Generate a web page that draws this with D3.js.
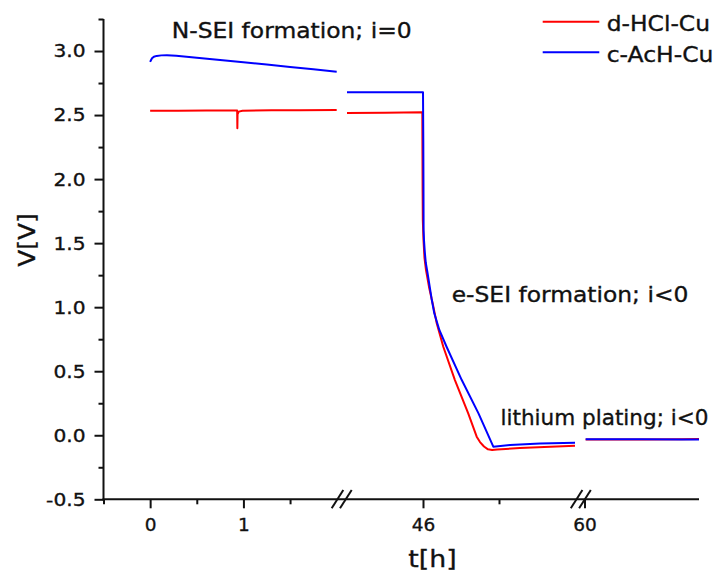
<!DOCTYPE html>
<html>
<head>
<meta charset="utf-8">
<script src="https://cdn.jsdelivr.net/npm/d3@7"></script>
<style>
  html, body { margin: 0; padding: 0; background: #fff; }
  svg { display: block; font-family: "DejaVu Sans", Verdana, sans-serif; }
  text { fill: #111; stroke: #111; stroke-width: 0.35px; }
</style>
</head>
<body>
<svg id="chart" width="721" height="573"></svg>
<script>
// ---------------- DATA ----------------
const seriesNames = ["d-HCl-Cu", "c-AcH-Cu"];
const seriesColors = ["#ff0000", "#0000ff"];

// segment 1 (t = 0 .. 2 h)
const red1 = [[0, 2.533], [0.3, 2.534], [0.6, 2.535], [0.933, 2.535], [0.935, 2.397], [0.937, 2.505], [0.95, 2.527], [0.99, 2.534], [1.3, 2.537], [1.6, 2.538], [2.0, 2.540]];
const blue1 = [[0, 2.915], [0.01, 2.93], [0.02, 2.943], [0.04, 2.955], [0.07, 2.962], [0.12, 2.966], [0.18, 2.967], [0.28, 2.964], [0.5, 2.948], [0.75, 2.930], [1.0, 2.912], [1.25, 2.894], [1.5, 2.876], [1.75, 2.857], [2.0, 2.839]];

// segment 2 (t = 44 .. 50 h)
const red2 = [[44, 2.516], [45, 2.519], [45.982, 2.522], [45.986, 2.2], [45.99, 1.9], [45.995, 1.681], [46.013, 1.524], [46.039, 1.384], [46.079, 1.29], [46.158, 1.158], [46.263, 1.017], [46.361, 0.874], [46.534, 0.691], [46.84, 0.431], [47.19, 0.171], [47.413, -0.011], [47.50, -0.053], [47.605, -0.088], [47.71, -0.110], [47.82, -0.115], [47.95, -0.112], [48.55, -0.099], [50.0, -0.082]];
const blue2 = [[44, 2.678], [46.0, 2.678], [46.008, 2.30], [46.012, 1.993], [46.016, 1.60], [46.026, 1.524], [46.047, 1.43], [46.074, 1.345], [46.118, 1.27], [46.171, 1.17], [46.224, 1.07], [46.297, 0.952], [46.43, 0.822], [46.62, 0.691], [47.02, 0.431], [47.46, 0.171], [47.85, -0.089], [48.29, -0.076], [49.08, -0.064], [50.0, -0.058]];

// segment 3 (t = 60 .. 70 h)
const red3 = [[60.1, -0.034], [65, -0.033], [68.5, -0.031], [70, -0.029]];
const blue3 = [[60.1, -0.032], [65, -0.032], [68.5, -0.033], [70, -0.034]];

const yMajorTicks = [-0.5, 0.0, 0.5, 1.0, 1.5, 2.0, 2.5, 3.0];
const yMinorTicks = [-0.25, 0.25, 0.75, 1.25, 1.75, 2.25, 2.75, 3.25];
const xMajorTicks = [[0, 1], [46], [60]];
const xMinorTicks = [[-0.5, 0.5, 1.5], [48], []];

const annotations = ["N-SEI formation; i=0", "e-SEI formation; i<0", "lithium plating; i<0"];
const xTitle = "t[h]";
const yTitle = "V[V]";

// ---------------- LAYOUT ----------------
const svg = d3.select("#chart");
const axisY0 = 499.3, axisTop = 19, axisX0 = 103.5, axisX1 = 699;

const y = d3.scaleLinear().domain([-0.5, 3.25]).range([axisY0, axisTop]);
const xs = [
  d3.scaleLinear().domain([-0.5, 2]).range([axisX0, 336.7]),
  d3.scaleLinear().domain([44, 50]).range([347, 575]),
  d3.scaleLinear().domain([60, 70]).range([584.5, 699])
];
const breaks = [341.7, 580.8];

const dataBySeg = [[red1, blue1], [red2, blue2], [red3, blue3]];

function fitWidth(sel, w) {
  sel.attr("textLength", w).attr("lengthAdjust", "spacingAndGlyphs");
}
function stretchBy(sel, f) {
  sel.each(function () {
    const len = this.getComputedTextLength();
    if (len > 0) d3.select(this).attr("textLength", (len * f).toFixed(1)).attr("lengthAdjust", "spacingAndGlyphs");
  });
}

// lines
dataBySeg.forEach((pair, si) => {
  const line = d3.line().x(d => xs[si](d[0])).y(d => y(d[1]));
  pair.forEach((data, k) => {
    svg.append("path")
      .attr("d", line(data))
      .attr("fill", "none")
      .attr("stroke", seriesColors[k])
      .attr("stroke-width", 2)
      .attr("stroke-linejoin", "round");
  });
});

// axes
const axisColor = "#111";
svg.append("line").attr("x1", axisX0).attr("x2", axisX0).attr("y1", axisTop).attr("y2", axisY0 + 1)
  .attr("stroke", axisColor).attr("stroke-width", 2);
svg.append("line").attr("x1", axisX0 - 1).attr("x2", axisX1).attr("y1", axisY0).attr("y2", axisY0)
  .attr("stroke", axisColor).attr("stroke-width", 2);

function styleAxis(g) {
  g.select(".domain").remove();
  g.selectAll("line").attr("stroke", axisColor).attr("stroke-width", 2);
  g.selectAll("text").attr("font-family", "DejaVu Sans, Verdana, sans-serif").attr("font-size", 18.5).attr("fill", "#111");
}
const fmtY = d => d3.format(".1f")(d).replace("\u2212", "-");

// y ticks
const gy = svg.append("g").attr("transform", `translate(${axisX0},0)`)
  .call(d3.axisLeft(y).tickValues(yMajorTicks).tickSize(9).tickPadding(9).tickFormat(fmtY))
  .call(styleAxis);
stretchBy(gy.selectAll("text"), 1.09);
svg.append("g").attr("transform", `translate(${axisX0},0)`)
  .call(d3.axisLeft(y).tickValues(yMinorTicks).tickSize(5).tickFormat(""))
  .call(styleAxis);

// x ticks per segment
xs.forEach((sc, si) => {
  svg.append("g").attr("transform", `translate(0,${axisY0})`)
    .call(d3.axisBottom(sc).tickValues(xMajorTicks[si]).tickSize(9).tickPadding(10).tickFormat(d3.format("d")))
    .call(styleAxis);
  if (xMinorTicks[si].length) {
    svg.append("g").attr("transform", `translate(0,${axisY0})`)
      .call(d3.axisBottom(sc).tickValues(xMinorTicks[si]).tickSize(5).tickFormat(""))
      .call(styleAxis);
  }
});

// break marks
breaks.forEach(c => {
  svg.append("line").attr("x1", c - 10).attr("y1", axisY0 + 9).attr("x2", c + 1.6).attr("y2", axisY0 - 9.3)
    .attr("stroke", axisColor).attr("stroke-width", 2);
  svg.append("line").attr("x1", c - 1.7).attr("y1", axisY0 + 9).attr("x2", c + 10).attr("y2", axisY0 - 9.3)
    .attr("stroke", axisColor).attr("stroke-width", 2);
});

// axis titles
svg.append("text").attr("x", 432.5).attr("y", 567).attr("text-anchor", "middle")
  .attr("font-size", 23.5).text(xTitle).call(fitWidth, 48.4);
svg.append("text").attr("transform", "translate(35,240) rotate(-90)").attr("text-anchor", "middle")
  .attr("font-size", 23.5).text(yTitle).call(fitWidth, 53.3);

// annotations
const annPos = [[171.7, 38.3], [451.7, 302], [500.5, 425]];
const annWidth = [240, 236.7, 208];
annotations.forEach((t, i) => {
  svg.append("text").attr("x", annPos[i][0]).attr("y", annPos[i][1])
    .attr("font-size", 21.5).text(t).call(fitWidth, annWidth[i]);
});

// legend
const legY = [21.7, 52.3];
const legWidth = [103.3, 106.7];
seriesNames.forEach((n, i) => {
  svg.append("line").attr("x1", 542.7).attr("x2", 599.3).attr("y1", legY[i]).attr("y2", legY[i])
    .attr("stroke", seriesColors[i]).attr("stroke-width", 2);
  svg.append("text").attr("x", 606.7).attr("y", legY[i] + 9.2)
    .attr("font-size", 21.5).text(n).call(fitWidth, legWidth[i]);
});
</script>
</body>
</html>
